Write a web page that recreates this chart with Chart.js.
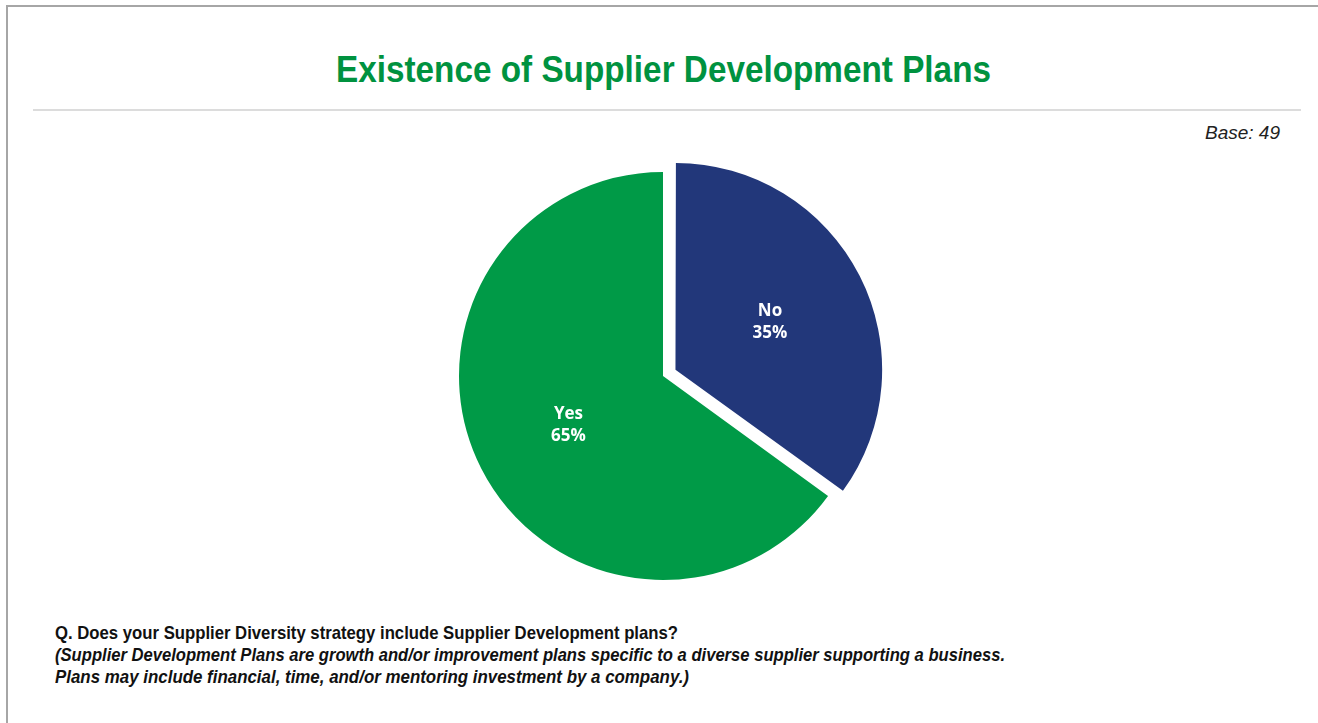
<!DOCTYPE html>
<html>
<head>
<meta charset="utf-8">
<script src="https://cdn.jsdelivr.net/npm/chart.js@4"></script>
<style>
  html, body { margin: 0; padding: 0; background: #fff; }
  body { width: 1318px; height: 723px; position: relative; overflow: hidden; }
  .frame { position: absolute; left: 6px; top: 5px; right: -10px; bottom: -10px;
           border-top: 2px solid #a6a6a6; border-left: 2px solid #a6a6a6; }
  .fit { position: absolute; white-space: nowrap; transform-origin: 0 0;
         font-family: "Liberation Sans", Arial, sans-serif; }
  .title { top: 49px; font-weight: bold; font-size: 37px; color: #00923f; }
  .rule { position: absolute; left: 33px; width: 1268px; top: 109px; height: 2px; background: #dcdcdc; }
  .base { position: absolute; right: 38px; top: 122px; font-family: "Liberation Sans", Arial, sans-serif;
          font-style: italic; font-size: 19px; color: #222; }
  .note { left: 55px; font-weight: bold; font-size: 18.5px; color: #111; }
  #wrap { position: absolute; left: 433px; top: 146px; width: 460px; height: 460px; }
</style>
</head>
<body>
<div class="frame"></div>
<div class="fit title" id="title" data-w="655" data-cx="663">Existence of Supplier Development Plans</div>
<div class="rule"></div>
<div class="base">Base: 49</div>
<div id="wrap"><canvas id="pie"></canvas></div>
<div class="fit note" style="top:622px" data-w="623">Q. Does your Supplier Diversity strategy include Supplier Development plans?</div>
<div class="fit note" style="top:644px;font-style:italic" data-w="950">(Supplier Development Plans are growth and/or improvement plans specific to a diverse supplier supporting a business.</div>
<div class="fit note" style="top:666px;font-style:italic" data-w="634">Plans may include financial, time, and/or mentoring investment by a company.)</div>
<script>
// answers, clockwise from 12 o'clock
const labels = ['No', 'Yes'];
const shares = [35, 65];
const colors = ['#22377a', '#009a47'];

// squeeze the text blocks to the narrow width of the original typeface
document.querySelectorAll('.fit').forEach(el => {
  const w = el.getBoundingClientRect().width;
  const s = +el.dataset.w / w;
  el.style.transform = 'scaleX(' + s + ')';
  if (el.dataset.cx) el.style.left = (+el.dataset.cx - el.dataset.w / 2) + 'px';
});

// white "label / pct" text in the middle of each slice (follows the slice offset)
const sliceLabels = {
  id: 'sliceLabels',
  afterDatasetsDraw(chart) {
    const ctx = chart.ctx;
    const meta = chart.getDatasetMeta(0);
    ctx.save();
    ctx.fillStyle = '#fff';
    ctx.font = 'bold 17px "Open Sans", "Liberation Sans", sans-serif';
    ctx.textAlign = 'center';
    ctx.textBaseline = 'middle';
    meta.data.forEach((arc, i) => {
      const mid = (arc.startAngle + arc.endAngle) / 2;
      const d = arc.outerRadius * 0.52 + (arc.options.offset || 0) / 4;
      const x = arc.x + Math.cos(mid) * d;
      const y = arc.y + Math.sin(mid) * d;
      ctx.fillText(labels[i], x, y - 10);
      ctx.fillText(shares[i] + '%', x, y + 12);
    });
    ctx.restore();
  }
};

new Chart(document.getElementById('pie'), {
  type: 'pie',
  data: {
    labels: labels,
    datasets: [{
      data: shares,
      backgroundColor: colors,
      borderWidth: 0,
      offset: [56, 0]
    }]
  },
  options: {
    responsive: true,
    maintainAspectRatio: false,
    animation: false,
    radius: 204,
    layout: { padding: 0 },
    plugins: {
      legend: { display: false },
      tooltip: { enabled: false }
    }
  },
  plugins: [sliceLabels]
});
</script>
</body>
</html>
